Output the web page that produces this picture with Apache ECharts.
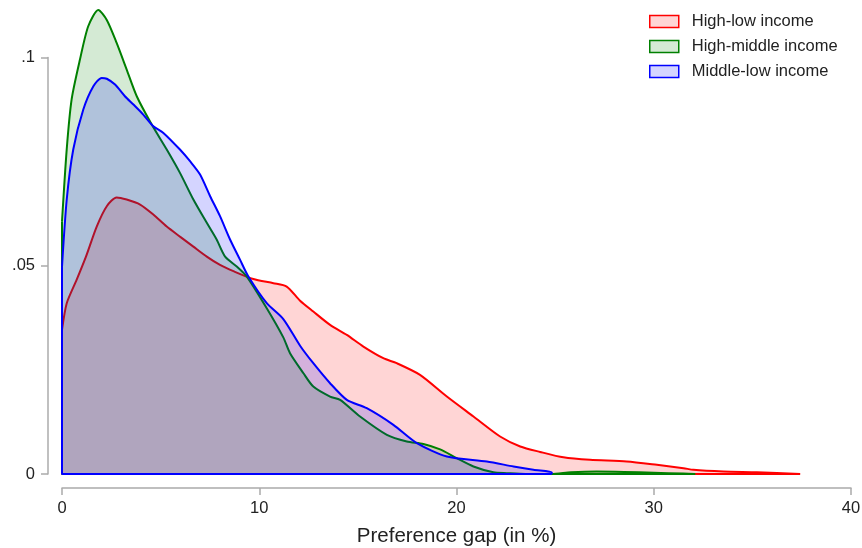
<!DOCTYPE html>
<html>
<head>
<meta charset="utf-8">
<script src="https://cdn.jsdelivr.net/npm/echarts@6/dist/echarts.min.js"></script>
<style>
html,body{margin:0;padding:0;background:#fff;}
#c{width:862px;height:548px;}
</style>
</head>
<body>
<div id="c"></div>
<script>
// ---- data ----
const seriesNames = ['High-low income', 'High-middle income', 'Middle-low income'];

const highLowX = [0, 0.24, 0.74, 1.2, 1.76, 2.27, 2.77, 3.28, 3.96, 4.63, 5.31, 5.98, 6.66, 7.34, 8.01, 8.69, 9.7, 10.72, 11.39, 12.07, 12.74, 13.59, 14.44, 15.28, 16.29, 16.97, 18.15, 19.51, 20.86, 22.21, 23.23, 24.24, 25.42, 26.77, 28.63, 30.16, 31.51, 32.01, 33.53, 35.23, 37.42];
const highLowY = [0.0346, 0.041, 0.0466, 0.052, 0.0594, 0.0643, 0.0664, 0.0659, 0.0647, 0.0623, 0.0594, 0.057, 0.0546, 0.0522, 0.0502, 0.0487, 0.0468, 0.0458, 0.045, 0.0416, 0.039, 0.0358, 0.0334, 0.0306, 0.0278, 0.0266, 0.0238, 0.0186, 0.0138, 0.009, 0.0066, 0.0053, 0.004, 0.0034, 0.003, 0.0022, 0.0014, 0.001, 0.0006, 0.0004, 0.0];

const highMidX = [0, 0.24, 0.49, 0.91, 1.33, 1.84, 2.27, 2.77, 3.28, 3.79, 4.55, 5.31, 5.98, 6.66, 7.34, 7.84, 8.27, 8.86, 9.37, 10.38, 11.22, 11.56, 12.24, 12.74, 13.59, 14.1, 15.11, 16.47, 17.48, 18.32, 19.17, 20.01, 20.86, 21.87, 22.55, 23.5, 24.8, 25.8, 27.1, 28.5, 30, 31.5, 32.1];
const highMidY = [0.0606, 0.078, 0.09, 0.0995, 0.1075, 0.1114, 0.109, 0.1035, 0.0971, 0.0907, 0.0839, 0.0779, 0.0723, 0.0659, 0.0603, 0.0563, 0.0522, 0.0498, 0.0474, 0.0398, 0.0328, 0.029, 0.0242, 0.021, 0.0186, 0.0178, 0.0138, 0.0094, 0.0078, 0.0072, 0.0059, 0.0038, 0.0018, 0.0004, 0.0002, 0.0, 0.0, 0.0004, 0.0006, 0.0005, 0.0003, 0.0001, 0.0];

const midLowX = [0, 0.24, 0.57, 1.08, 1.59, 2.01, 2.27, 2.69, 3.19, 3.62, 4.12, 4.63, 5.14, 5.98, 6.49, 7.0, 7.51, 8.01, 8.52, 9.03, 9.45, 10.38, 11.22, 12.07, 12.74, 13.59, 14.44, 15.45, 16.8, 17.99, 19.51, 21.54, 22.89, 23.9, 24.83];
const midLowY = [0.0498, 0.0659, 0.0779, 0.0875, 0.0931, 0.0951, 0.0949, 0.0935, 0.0907, 0.0887, 0.0863, 0.0835, 0.0819, 0.0779, 0.0751, 0.0719, 0.0667, 0.0619, 0.0563, 0.0514, 0.0474, 0.041, 0.0372, 0.0308, 0.0266, 0.0218, 0.0178, 0.0158, 0.0118, 0.0074, 0.0042, 0.003, 0.0018, 0.001, 0.0004];

const xTicks = [0, 10, 20, 30, 40];
const yTickValues = [0, 0.05, 0.1];
const yTickLabels = ['0', '.05', '.1'];
const xTitle = 'Preference gap (in %)';

// curve points, ending on the baseline
function curve(xs, ys) {
  const pts = [];
  for (let i = 0; i < xs.length; i++) pts.push([xs[i], ys[i]]);
  if (ys[ys.length - 1] !== 0) pts.push([xs[xs.length - 1], 0]);
  return pts;
}
// outline closing the polygon: up the left edge and along the baseline
function outline(xs, ys) {
  return [[xs[0], ys[0]], [xs[0], 0], [xs[xs.length - 1], 0]];
}

const lineColors = ['#ff0000', '#008000', '#0000ff'];
const fillColors = ['rgba(255,0,0,0.165)', 'rgba(0,128,0,0.17)', 'rgba(0,0,255,0.17)'];
const xsAll = [highLowX, highMidX, midLowX];
const ysAll = [highLowY, highMidY, midLowY];

const FONT = '"Liberation Sans", Arial, Helvetica, sans-serif';

const series = [];
seriesNames.forEach((n, i) => {
  series.push({
    name: n,
    type: 'line',
    data: curve(xsAll[i], ysAll[i]),
    showSymbol: false,
    symbol: 'none',
    clip: false,
    smooth: 0.25,
    itemStyle: {color: lineColors[i]},
    lineStyle: {color: lineColors[i], width: 2},
    areaStyle: {color: fillColors[i], opacity: 1, origin: 'start'},
    z: 2 + 2 * i
  });
  series.push({
    name: n,
    type: 'line',
    data: outline(xsAll[i], ysAll[i]),
    showSymbol: false,
    symbol: 'none',
    clip: false,
    smooth: false,
    itemStyle: {color: lineColors[i]},
    lineStyle: {color: lineColors[i], width: 2},
    z: 3 + 2 * i
  });
});

const chart = echarts.init(document.getElementById('c'), null, {renderer: 'canvas'});
chart.setOption({
  animation: false,
  backgroundColor: '#fff',
  textStyle: {fontFamily: FONT},
  grid: {left: 62, right: 11, top: 57.5, bottom: 74, containLabel: false, outerBoundsMode: 'none'},
  legend: {
    orient: 'vertical',
    left: 644,
    top: 8,
    itemWidth: 29,
    itemHeight: 12,
    itemGap: 8,
    icon: 'rect',
    textStyle: {fontSize: 16.5, color: '#222', fontFamily: FONT, padding: [0, 0, 0, 8]},
    data: seriesNames.map((n, i) => ({
      name: n,
      itemStyle: {color: fillColors[i], borderColor: lineColors[i], borderWidth: 1.5, opacity: 1}
    }))
  },
  xAxis: {
    type: 'value',
    min: xTicks[0],
    max: xTicks[xTicks.length - 1],
    interval: 10,
    offset: 14,
    name: xTitle,
    nameLocation: 'middle',
    nameGap: 38,
    nameMoveOverlap: false,
    nameTextStyle: {fontSize: 20.5, color: '#222', fontFamily: FONT},
    axisLine: {show: true, onZero: false, lineStyle: {color: '#ababab', width: 1.5}},
    axisTick: {show: true, length: 7, lineStyle: {color: '#ababab', width: 1.5}},
    axisLabel: {fontSize: 16.5, color: '#222', margin: 12, fontFamily: FONT},
    splitLine: {show: false}
  },
  yAxis: {
    type: 'value',
    min: yTickValues[0],
    max: yTickValues[yTickValues.length - 1],
    interval: 0.05,
    offset: 14,
    axisLine: {show: true, onZero: false, lineStyle: {color: '#ababab', width: 1.5}},
    axisTick: {show: true, length: 7, lineStyle: {color: '#ababab', width: 1.5}},
    axisLabel: {
      fontSize: 16.5, color: '#222', margin: 13, fontFamily: FONT,
      formatter: v => {
        const k = yTickValues.findIndex(t => Math.abs(t - v) < 1e-9);
        return k >= 0 ? yTickLabels[k] : '';
      }
    },
    splitLine: {show: false}
  },
  series: series
});
</script>
</body>
</html>
